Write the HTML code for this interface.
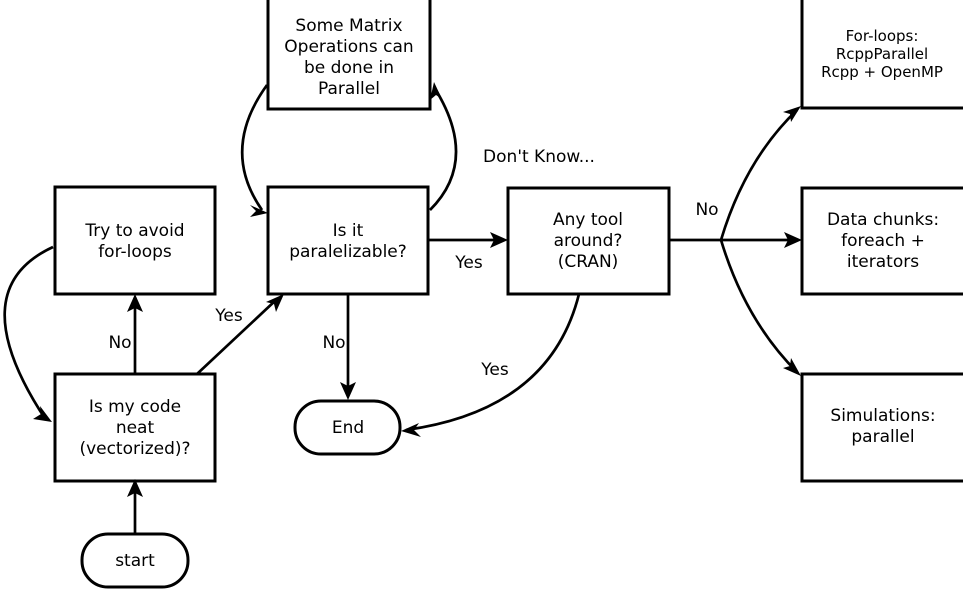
<!DOCTYPE html>
<html><head><meta charset="utf-8"><style>
html,body{margin:0;padding:0;background:#fff;}
svg{display:block;}
text{font-family:"DejaVu Sans","Liberation Sans",sans-serif;font-size:17px;fill:#000;text-anchor:middle;}
.s{font-size:15px;}
</style></head><body>
<svg width="963" height="589" viewBox="0 0 963 589" xmlns="http://www.w3.org/2000/svg">
<g fill="none" stroke="#000" stroke-width="3">
<rect x="268" y="-2" width="162" height="111"/>
<rect x="55" y="187" width="160" height="107"/>
<rect x="268" y="187" width="160" height="107"/>
<rect x="508" y="188" width="161" height="106"/>
<rect x="802" y="-2" width="163" height="110"/>
<rect x="802" y="188" width="163" height="106"/>
<rect x="802" y="374" width="163" height="107"/>
<rect x="55" y="374" width="160" height="107"/>
<rect x="295" y="401" width="105" height="53" rx="26"/>
<rect x="82" y="534" width="106" height="53" rx="26"/>
</g>
<g fill="none" stroke="#000" stroke-width="2.7">
<path d="M135,534 V486"/><path d="M135,374 V300"/>
<path d="M197,374 L276,300"/>
<path d="M348,294 V396"/>
<path d="M428,240 H502"/>
<path d="M669,240 H796"/>
<path d="M721,240 Q745,160 797,110"/>
<path d="M721,240 Q745,320 797,372"/>
<path d="M579,294 Q550,410 406,430"/>
<path d="M53,247 Q-40,290 46,420"/>
<path d="M267,85 Q220,150 262,210"/>
<path d="M430,210 Q480,160 434,87"/>
</g>
<g fill="#000">
<path d="M135,479 L127,497 L135,493 L143,497 Z"/>
<path d="M135,294 L127,312 L135,308 L143,312 Z"/>
<path d="M284,294 L266,302 L274,304 L276,312 Z"/>
<path d="M348,400 L340,382 L348,386 L356,382 Z"/>
<path d="M508,240 L490,232 L494,240 L490,248 Z"/>
<path d="M802,240 L784,232 L788,240 L784,248 Z"/>
<path d="M801,106 L783,112 L790,114 L791,122 Z"/>
<path d="M801,376 L791,358 L790,366 L783,368 Z"/>
<path d="M401,431 L419,423 L414,430 L421,437 Z"/>
<path d="M52,422 L40,406 L41,414 L33,419 Z"/>
<path d="M268,213 L250,205 L256,211 L250,217 Z"/>
<path d="M434,82 L430,100 L436,95 L442,99 Z"/>
</g>
<text x="349" y="31">Some Matrix</text>
<text x="349" y="52">Operations can</text>
<text x="349" y="73">be done in</text>
<text x="349" y="94">Parallel</text>
<text x="135" y="236">Try to avoid</text>
<text x="135" y="257">for-loops</text>
<text x="348" y="236">Is it</text>
<text x="348" y="257">paralelizable?</text>
<text x="588" y="225">Any tool</text>
<text x="588" y="246">around?</text>
<text x="588" y="267">(CRAN)</text>
<text x="135" y="412">Is my code</text>
<text x="135" y="433">neat</text>
<text x="135" y="454">(vectorized)?</text>
<text x="348" y="433">End</text>
<text x="135" y="566">start</text>
<text class="s" x="882" y="41">For-loops:</text>
<text class="s" x="882" y="59">RcppParallel</text>
<text class="s" x="882" y="77">Rcpp + OpenMP</text>
<text x="883" y="225">Data chunks:</text>
<text x="883" y="246">foreach +</text>
<text x="883" y="267">iterators</text>
<text x="883" y="421">Simulations:</text>
<text x="883" y="442">parallel</text>
<text x="539" y="162">Don't Know...</text>
<text x="707" y="215">No</text>
<text x="469" y="268">Yes</text>
<text x="495" y="375">Yes</text>
<text x="229" y="321">Yes</text>
<text x="120" y="348">No</text>
<text x="334" y="348">No</text>
</svg>
</body></html>
